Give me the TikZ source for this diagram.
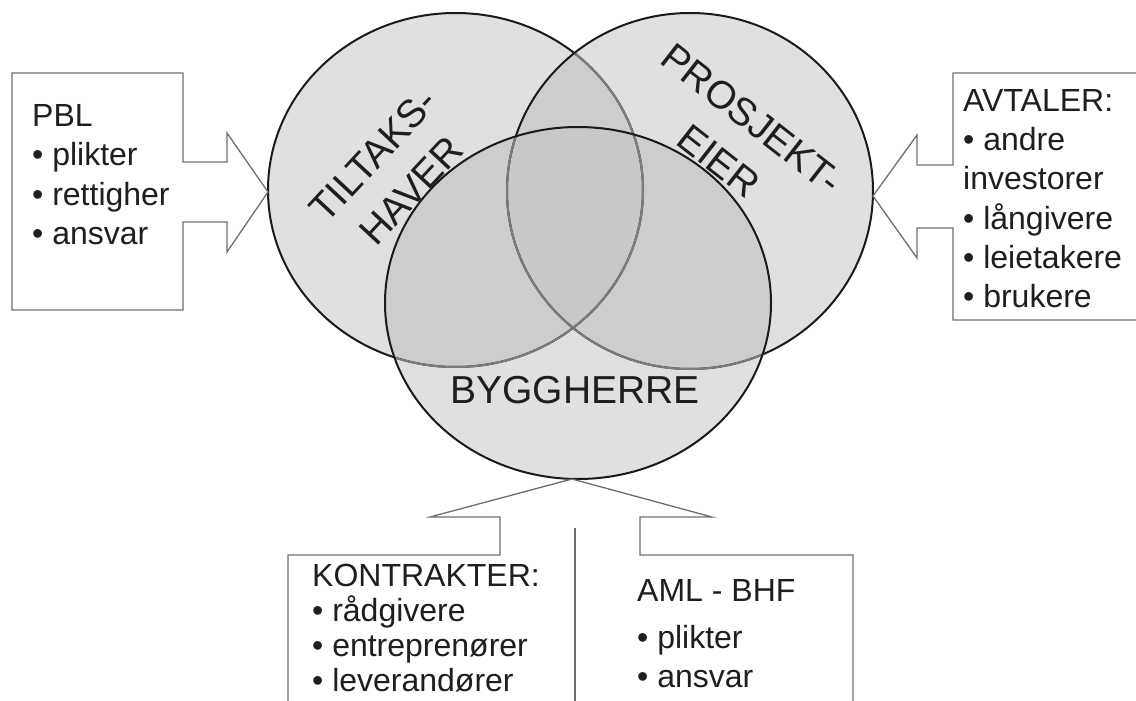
\documentclass[tikz,border=0pt]{standalone}
\usepackage{fontspec}
\setmainfont{Liberation Sans}

\definecolor{ink}{HTML}{1E1E1E}
\definecolor{boxline}{HTML}{6E6E6E}
\definecolor{ringline}{HTML}{1A1A1A}
\definecolor{innerline}{HTML}{7C7C7C}
\definecolor{lightfill}{HTML}{E0E0E0}
\definecolor{midfill}{HTML}{CDCDCD}
\definecolor{deepfill}{HTML}{C8C8C8}

% the three role areas of the Venn diagram
\newcommand\vennTilt{(455.5,190) ellipse [x radius=187.5pt, y radius=177pt]}
\newcommand\vennEier{(690,191) ellipse [x radius=183pt, y radius=178pt]}
\newcommand\vennBygg{(578,303) ellipse [x radius=193pt, y radius=176pt]}

% a stack of text lines with a fixed baseline distance
\newcommand\linestack[2]{\vtop{\baselineskip=#1\lineskiplimit=-100pt\lineskip=0pt\relax #2}}
% one centred line of zero width
\newcommand\midline[1]{\hbox to 0pt{\hss #1\hss}}

\begin{document}
\begin{tikzpicture}[x=1pt,y=-1pt,
  venntext/.style={text=ink, font=\fontsize{39}{52}\selectfont, inner sep=0pt},
  boxtext/.style={text=ink, anchor=base west, inner sep=0pt, font=\fontsize{32}{39}\selectfont},
  callout/.style={draw=boxline, line width=1.3pt, line join=miter},
  ring/.style={draw=ringline, line width=2pt},
  innerring/.style={draw=innerline, line width=2pt}]

\useasboundingbox (0,0) rectangle (1136,701);

% area fills
\fill[lightfill] \vennTilt;
\fill[lightfill] \vennEier;
\fill[lightfill] \vennBygg;
\begin{scope}
  \clip \vennTilt;
  \fill[midfill] \vennEier;
  \fill[midfill] \vennBygg;
\end{scope}
\begin{scope}
  \clip \vennEier;
  \fill[midfill] \vennBygg;
\end{scope}
\begin{scope}
  \clip \vennTilt;
  \clip \vennEier;
  \fill[deepfill] \vennBygg;
\end{scope}

% outlines: arcs lying under a later area are lighter
\draw[ring] \vennTilt;
\begin{scope}
  \clip \vennEier;
  \draw[innerring] \vennTilt;
\end{scope}
\begin{scope}
  \clip \vennBygg;
  \draw[innerring] \vennTilt;
\end{scope}
\draw[ring] \vennEier;
\begin{scope}
  \clip \vennBygg;
  \draw[innerring] \vennEier;
\end{scope}
\draw[ring] \vennBygg;

% touching points of the callout arrows
\coordinate (tipL) at (268,192);
\coordinate (tipR) at (873,196);
\coordinate (tipB) at (572,479);

% area labels
\node[venntext, rotate=47] (tiltaks) at (392,172.5)
  {\linestack{52pt}{\midline{TILTAKS-}\midline{HAVER}}};
\node[venntext, rotate=-38] (prosjekt) at (735.5,140)
  {\linestack{54pt}{\midline{PROSJEKT-}\midline{EIER}}};
\node[venntext, anchor=base] (bygg) at (575,403) {BYGGHERRE};

% callout boxes
\draw[callout] (12,73) -- (183,73) -- (183,162) -- (227,162) -- (227,133)
  -- (tipL) -- (227,252) -- (227,222) -- (183,222) -- (183,310) -- (12,310) -- cycle;
\draw[callout] (1140,73) -- (953,73) -- (953,165) -- (917,165) -- (917,135)
  -- (tipR) -- (917,258) -- (917,228) -- (953,228) -- (953,320) -- (1140,320);
\draw[callout] (tipB) -- (430,517) -- (500,517) -- (500,555) -- (288,555) -- (288,705);
\draw[callout] (tipB) -- (712,517) -- (640,517) -- (640,555) -- (853,555) -- (853,705);
\coordinate (divtop) at (575,528);
\coordinate (divbot) at (575,705);
\draw[callout] (divtop) -- (divbot);

% callout texts
\node[boxtext] (pbl) at (32,126.5)
  {\linestack{39.5pt}{\hbox{PBL}\hbox{• plikter}\hbox{• rettigher}\hbox{• ansvar}}};
\node[boxtext] (avtaler) at (963,111.3)
  {\linestack{39.3pt}{\hbox{AVTALER:}\hbox{• andre}\hbox{investorer}\hbox{• långivere}\hbox{• leietakere}\hbox{• brukere}}};
\node[boxtext] (kontrakter) at (312,586)
  {\linestack{35pt}{\hbox{KONTRAKTER:}\hbox{• rådgivere}\hbox{• entreprenører}\hbox{• leverandører}}};
\node[boxtext] (aml) at (637,601.7)
  {\linestack{39pt}{\hbox{AML - BHF}\vskip8pt\hbox{• plikter}\hbox{• ansvar}}};

\end{tikzpicture}
\end{document}
